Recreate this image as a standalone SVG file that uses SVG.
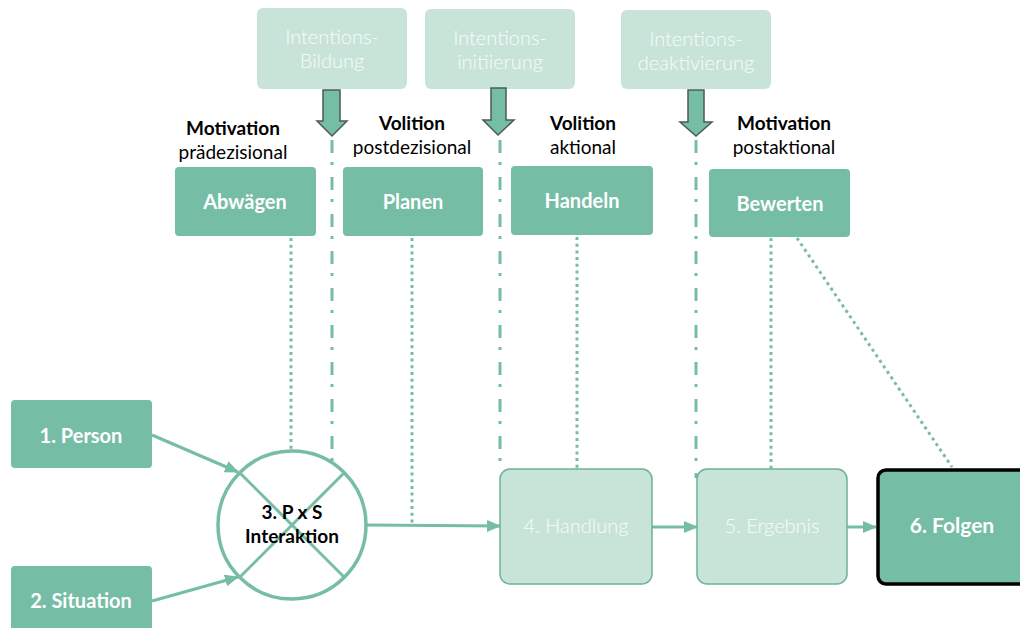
<svg xmlns="http://www.w3.org/2000/svg" width="1020" height="628" viewBox="0 0 1020 628">
<style>
.int{fill:#C8E4D9}
.intt{font-family:Lato,"Noto Sans",sans-serif;font-weight:300;font-size:20px;fill:#F8FCFA;text-anchor:middle}
.dk{fill:#76BDA5}
.dkt{font-family:Lato,"Noto Sans",sans-serif;font-weight:700;font-size:20px;fill:#FFFFFF;text-anchor:middle}
.lb{font-family:Lato,"Noto Sans",sans-serif;font-size:19px;fill:#000;text-anchor:middle}
.lbb{font-weight:700}
.lt{fill:#C8E4D9;stroke:#6BB394;stroke-width:1.5}
.ba{fill:#76BDA5;stroke:#4D5A55;stroke-width:1.5}
.dd{stroke:#76BDA5;stroke-width:3;fill:none;stroke-dasharray:13 9 3 12}
.dt{stroke:#76BDA5;stroke-width:3;fill:none;stroke-dasharray:3 3.7}
.ln{stroke:#76BDA5;stroke-width:3;fill:none}
</style>
<defs>
<marker id="ah" markerUnits="userSpaceOnUse" markerWidth="14" markerHeight="12" refX="13" refY="6" orient="auto">
<path d="M0,0 L14,6 L0,12 Z" fill="#76BDA5"/>
</marker>
</defs>

<g id="intentionsbildung">
<rect class="int" x="257" y="8" width="150" height="81" rx="6"/>
<text class="intt" x="332" y="44">Intentions-</text>
<text class="intt" x="332" y="68">Bildung</text>
<path class="ba" d="M323,90 H340 V121 H347 L332,136 L317,121 H323 Z"/>
</g>
<g id="intentionsinitiierung">
<rect class="int" x="425" y="9" width="150" height="80" rx="6"/>
<text class="intt" x="500" y="45">Intentions-</text>
<text class="intt" x="500" y="69">initiierung</text>
<path class="ba" d="M491,88 H506 V120 H514 L498,135 L483,120 H491 Z"/>
</g>
<g id="intentionsdeaktivierung">
<rect class="int" x="621" y="10" width="150" height="79" rx="6"/>
<text class="intt" x="696" y="46">Intentions-</text>
<text class="intt" x="696" y="70">deaktivierung</text>
<path class="ba" d="M688,90 H704 V122 H712 L696,136 L680,122 H688 Z"/>
</g>

<g id="abwaegen">
<text class="lb lbb" x="233" y="135">Motivation</text>
<text class="lb" x="233" y="159">prädezisional</text>
<rect class="dk" x="175" y="167" width="141" height="69" rx="4"/>
<text class="dkt" x="245" y="209">Abwägen</text>
</g>
<g id="planen">
<text class="lb lbb" x="412" y="130">Volition</text>
<text class="lb" x="412" y="154">postdezisional</text>
<rect class="dk" x="343" y="167" width="140" height="69" rx="4"/>
<text class="dkt" x="413" y="209">Planen</text>
</g>
<g id="handeln">
<text class="lb lbb" x="583" y="130">Volition</text>
<text class="lb" x="583" y="154">aktional</text>
<rect class="dk" x="511" y="166" width="142" height="69" rx="4"/>
<text class="dkt" x="582" y="208">Handeln</text>
</g>
<g id="bewerten">
<text class="lb lbb" x="784" y="130">Motivation</text>
<text class="lb" x="784" y="154">postaktional</text>
<rect class="dk" x="709" y="169" width="141" height="68" rx="4"/>
<text class="dkt" x="780" y="211">Bewerten</text>
</g>

<g id="connectors">
<line class="dd" x1="332" y1="140" x2="332" y2="470"/>
<line class="dd" x1="500" y1="140" x2="500" y2="473"/>
<line class="dd" x1="696" y1="140" x2="696" y2="478"/>
<line class="dt" x1="291" y1="238" x2="291" y2="451"/>
<line class="dt" x1="412" y1="238" x2="412" y2="524"/>
<line class="dt" x1="577" y1="237" x2="577" y2="469"/>
<line class="dt" x1="771" y1="238" x2="771" y2="469"/>
<line class="dt" x1="797" y1="238" x2="952" y2="467"/>
<line class="ln" x1="152" y1="435" x2="238" y2="472" marker-end="url(#ah)"/>
<line class="ln" x1="152" y1="601" x2="238" y2="577" marker-end="url(#ah)"/>
<line class="ln" x1="366" y1="525" x2="500" y2="526" marker-end="url(#ah)"/>
<line class="ln" x1="652" y1="527" x2="697" y2="527" marker-end="url(#ah)"/>
<line class="ln" x1="847" y1="527" x2="876" y2="527" marker-end="url(#ah)"/>
</g>

<g id="person">
<rect class="dk" x="11" y="400" width="141" height="68" rx="4"/>
<text class="dkt" x="81" y="443">1. Person</text>
</g>
<g id="situation">
<rect class="dk" x="11" y="566" width="141" height="70" rx="4"/>
<text class="dkt" x="81" y="608">2. Situation</text>
</g>
<g id="interaktion">
<circle cx="292" cy="525" r="74" fill="#fff" stroke="#76BDA5" stroke-width="3.5"/>
<line class="ln" x1="240" y1="473" x2="344" y2="577" stroke-width="3.5"/>
<line class="ln" x1="344" y1="473" x2="240" y2="577" stroke-width="3.5"/>
<text class="lb lbb" x="292" y="519">3. P x S</text>
<text class="lb lbb" x="292" y="543">Interaktion</text>
</g>
<g id="handlung">
<rect class="lt" x="500" y="469" width="152" height="115" rx="10"/>
<text class="intt" x="576" y="533">4. Handlung</text>
</g>
<g id="ergebnis">
<rect class="lt" x="697" y="469" width="150" height="115" rx="10"/>
<text class="intt" x="772" y="533">5. Ergebnis</text>
</g>
<g id="folgen">
<rect x="878" y="470" width="150" height="114" rx="8" fill="#76BDA5" stroke="#000" stroke-width="3.5"/>
<text class="dkt" x="952" y="533" style="font-size:21px">6. Folgen</text>
</g>
</svg>
